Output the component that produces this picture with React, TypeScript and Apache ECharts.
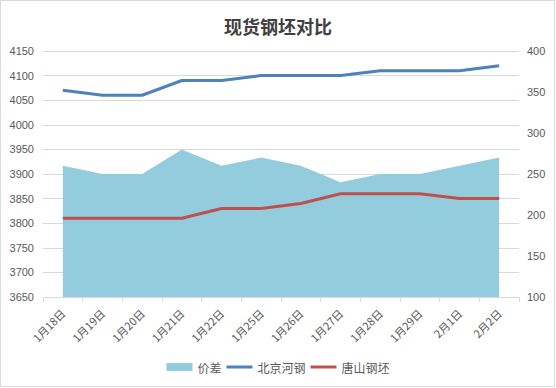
import React, { useEffect, useRef } from "react";
import * as echarts from "echarts";

const categories = ["1月18日", "1月19日", "1月20日", "1月21日", "1月22日", "1月25日", "1月26日", "1月27日", "1月28日", "1月29日", "2月1日", "2月2日"];
const beijing = [4070, 4060, 4060, 4090, 4090, 4100, 4100, 4100, 4110, 4110, 4110, 4120];
const tangshan = [3810, 3810, 3810, 3810, 3830, 3830, 3840, 3860, 3860, 3860, 3850, 3850];
const spread = [260, 250, 250, 280, 260, 270, 260, 240, 250, 250, 260, 270];

const FONT = "'Liberation Sans', 'Noto Sans CJK SC', sans-serif";
const CJK = "'Noto Sans CJK SC', sans-serif";
const LINE_ICON = "path://M0 0H26V3H0Z";

export default function App() {
  const ref = useRef<HTMLDivElement>(null);
  useEffect(() => {
    if (!ref.current) return;
    const chart = echarts.init(ref.current, null, { renderer: "svg" });
    chart.setOption({
      animation: false,
      backgroundColor: "#ffffff",
      title: {
        text: "现货钢坯对比",
        left: "center",
        top: 12,
        textStyle: { fontSize: 18, fontWeight: "bold", color: "#404040", fontFamily: CJK },
      },
      graphic: [
        {
          type: "rect",
          shape: { x: 0.5, y: 0.5, width: 554, height: 386 },
          style: { fill: "none", stroke: "#D9D9D9", lineWidth: 1 },
          silent: true,
        },
      ],
      legend: {
        bottom: 10,
        left: "center",
        itemWidth: 26,
        itemHeight: 8,
        itemGap: 5,
        textStyle: { fontSize: 12, color: "#595959", fontFamily: CJK },
        data: [
          { name: "价差", icon: "rect" },
          { name: "北京河钢", icon: LINE_ICON },
          { name: "唐山钢坯", icon: LINE_ICON },
        ],
      },
      grid: { left: 43, right: 37, top: 51, bottom: 91, containLabel: false },
      xAxis: {
        type: "category",
        data: categories,
        boundaryGap: true,
        axisLine: { show: true, lineStyle: { color: "#D9D9D9", width: 1 } },
        axisTick: { show: true, length: 5, lineStyle: { color: "#D9D9D9" } },
        axisLabel: { rotate: 45, fontSize: 11, color: "#595959", fontFamily: CJK, margin: 14, interval: 0 },
        splitLine: { show: false },
      },
      yAxis: [
        {
          type: "value",
          min: 3650,
          max: 4150,
          interval: 50,
          axisLine: { show: false },
          axisTick: { show: false },
          axisLabel: { fontSize: 11, color: "#595959", fontFamily: FONT, margin: 9, formatter: (v: number) => String(v) },
          splitLine: { show: true, lineStyle: { color: "#D9D9D9", width: 1 } },
        },
        {
          type: "value",
          min: 100,
          max: 400,
          interval: 50,
          position: "right",
          axisLine: { show: false },
          axisTick: { show: false },
          axisLabel: { fontSize: 11, color: "#595959", fontFamily: FONT, margin: 8, formatter: (v: number) => String(v) },
          splitLine: { show: false },
        },
      ],
      series: [
        {
          name: "价差",
          type: "line",
          yAxisIndex: 1,
          data: spread,
          symbol: "none",
          color: "#93CDDD",
          lineStyle: { width: 0, color: "#93CDDD" },
          areaStyle: { color: "#93CDDD", opacity: 1, origin: "start" },
          itemStyle: { color: "#93CDDD" },
          z: 1,
        },
        {
          name: "北京河钢",
          type: "line",
          yAxisIndex: 0,
          data: beijing,
          symbol: "none",
          color: "#4F81BD",
          lineStyle: { width: 3, color: "#4F81BD" },
          itemStyle: { color: "#4F81BD" },
          z: 3,
        },
        {
          name: "唐山钢坯",
          type: "line",
          yAxisIndex: 0,
          data: tangshan,
          symbol: "none",
          color: "#C0504D",
          lineStyle: { width: 3, color: "#C0504D" },
          itemStyle: { color: "#C0504D" },
          z: 3,
        },
      ],
    });
    return () => chart.dispose();
  }, []);
  return (
    <div
      ref={ref}
      style={{ position: "fixed", left: 0, top: 0, width: 556, height: 388 }}
    />
  );
}
